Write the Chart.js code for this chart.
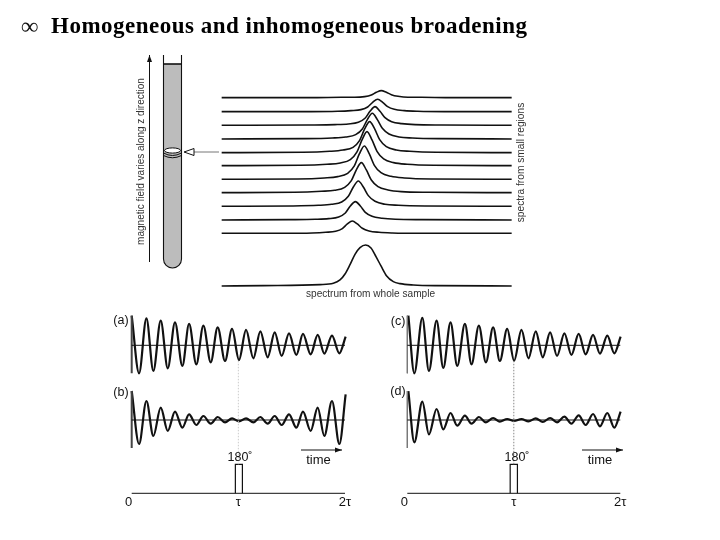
<!DOCTYPE html>
<html>
<head>
<meta charset="utf-8">
<title>Homogeneous and inhomogeneous broadening</title>
<script src="https://cdn.jsdelivr.net/npm/chart.js@4"></script>
<style>
  html, body { margin:0; padding:0; background:#fff; }
  canvas { display:block; }
</style>
</head>
<body>
<canvas id="chart" width="720" height="540"></canvas>
<script>
/* ========= DATA ========= */
const timeTicks = [0, 1, 2];
const timeTickLabels = ['0', 'τ', '2τ'];

// extrema of the echo traces, time in units of tau
const timesLeft = [0,.069,.138,.203,.272,.338,.406,.475,.538,.606,.672,.741,.806,.875,.941,1.006,1.072,1.141,1.206,1.275,1.341,1.406,1.475,1.544,1.606,1.678,1.744,1.806,1.878,1.947,2.006];
const timesRight = [.01,.066,.141,.203,.275,.338,.406,.469,.541,.603,.672,.738,.806,.869,.938,1.003,1.072,1.138,1.206,1.272,1.341,1.406,1.475,1.541,1.609,1.675,1.744,1.809,1.878,1.944,2.003];

const ampA = [.89,-.84,.81,-.77,.74,-.69,.69,-.62,.64,-.57,.59,-.51,.54,-.47,.49,-.44,.46,-.39,.42,-.36,.39,-.32,.36,-.29,.34,-.27,.31,-.25,.29,-.24,.26];
const ampB = [.87,-.72,.57,-.48,.37,-.33,.25,-.23,.17,-.15,.12,-.11,.09,-.07,.05,-.04,.05,-.07,.09,-.11,.12,-.15,.17,-.23,.25,-.33,.37,-.48,.57,-.72,.77];
const ampC = [.89,-.84,.82,-.77,.74,-.68,.69,-.62,.64,-.57,.59,-.51,.54,-.47,.49,-.46,.46,-.39,.42,-.36,.39,-.32,.36,-.29,.34,-.27,.31,-.25,.29,-.24,.26];
const ampD = [.87,-.67,.55,-.43,.33,-.28,.21,-.17,.13,-.11,.09,-.07,.06,-.05,.03,-.03,.03,-.04,.05,-.06,.06,-.07,.10,-.11,.14,-.15,.18,-.19,.21,-.23,.25];

const pulseTimesLeft = [.972, .972, 1.038, 1.038];
const pulseTimesRight = [.966, .966, 1.034, 1.034];
const pulseLevels = [0, 1, 1, 0];

// spectra: shared frequency offsets round each peak
const specOffsets = [-200,-120,-80,-50,-30,-15,0,15,30,50,80,120,200];
const specCentres = [-38,-29,-20,-11,-2,6,14,22,30,38,49];
const specBaselines = [0,40,81,122,162,203,242,283,324,365,407];
const spec1 = [0,1,3,6,14,28,37,28,15,7,3,1,0];
const spec2 = [1,2,4,9,21,42,55,42,23,11,5,2,1];
const spec3 = [1,3,6,13,30,58,76,58,32,15,6,3,1];
const spec4 = [1,4,7,16,36,68,90,68,38,18,8,3,1];
const spec5 = [1,4,8,18,40,76,100,76,42,20,9,4,1];
const spec6 = [1,4,8,18,41,77,102,77,43,20,9,4,1];
const spec7 = [1,4,8,16,37,71,93,71,39,18,8,4,1];
const spec8 = [1,3,6,13,30,58,77,58,32,15,6,3,1];
const spec9 = [1,2,4,9,21,42,56,42,23,11,5,2,1];
const spec10 = [0,1,3,6,14,28,37,28,15,7,3,1,0];
const spec11 = [0,1,1,3,8,16,21,16,9,4,1,1,0];
const specLimits = [-430, 440];

const wholeFreq = [-430,-305,-135,-95,-75,-60,-45,-30,-15,2,18,33,48,65,85,105,145,215,440];
const wholeIntensity = [0,1,4,8,18,36,64,95,115,123,114,88,60,30,13,7,3,1,0];
const wholeBaseline = -158;

/* ========= HELPERS ========= */
const W = 720, H = 540;
const ink = '#111';

// linear scale that puts value 0 at a page pixel, with a given pixel size per unit
function xRange(zeroPx, pxPerUnit){
  return { type:'linear', display:false, min:-zeroPx/pxPerUnit, max:(W-zeroPx)/pxPerUnit };
}
function yRange(zeroPx, pxPerUnit){
  return { type:'linear', display:false, min:-(H-zeroPx)/pxPerUnit, max:zeroPx/pxPerUnit };
}
function pairs(xs, ys){
  return xs.map((x, i) => ({ x, y:ys[i] }));
}
function trace(xs, ys, xAxisID, yAxisID, extra){
  return {
    data:pairs(xs, ys), xAxisID, yAxisID,
    borderColor:ink, borderWidth:1, pointRadius:0, fill:false, tension:0,
    ...extra
  };
}
function spectrum(offsets, values, centre, baseline){
  const xs = [specLimits[0], ...offsets.map(o => o + centre), specLimits[1]];
  const ys = [baseline, ...values.map(v => v + baseline), baseline];
  return trace(xs, ys, 'xSpec', 'ySpec', { borderWidth:1.6, cubicInterpolationMode:'monotone' });
}
function echo(times, amps, xAxisID, yAxisID){
  return trace(times, amps, xAxisID, yAxisID, { borderWidth:2.2, cubicInterpolationMode:'monotone' });
}

/* ========= DATASETS ========= */
const specRows = [spec1,spec2,spec3,spec4,spec5,spec6,spec7,spec8,spec9,spec10,spec11];
const datasets = [
  ...specRows.map((row, i) => spectrum(specOffsets, row, specCentres[i], specBaselines[i])),
  trace(wholeFreq, wholeIntensity.map(v => v + wholeBaseline), 'xSpec', 'ySpec', { borderWidth:1.6, cubicInterpolationMode:'monotone' }),

  // dotted guide at tau
  trace([1, 1], [1, 4.6], 'xLeft', 'yPulse', { borderColor:'#ccc', borderDash:[1.5, 1.5] }),
  trace([1, 1], [1, 4.6], 'xRight', 'yPulse', { borderColor:'#888', borderDash:[1.5, 1.5] }),

  // left column
  trace([0, 2], [0, 0], 'xLeft', 'yA'),
  trace([0, 0], [.89, -.84], 'xLeft', 'yA', { borderWidth:2, borderColor:'#444' }),
  echo(timesLeft, ampA, 'xLeft', 'yA'),
  trace([0, 2], [0, 0], 'xLeft', 'yB'),
  trace([0, 0], [.87, -.84], 'xLeft', 'yB', { borderWidth:2, borderColor:'#444' }),
  echo(timesLeft, ampB, 'xLeft', 'yB'),
  trace([0, 2], [0, 0], 'xLeft', 'yPulse'),
  trace(pulseTimesLeft, pulseLevels, 'xLeft', 'yPulse', { borderWidth:1.2 }),

  // right column
  trace([0, 2], [0, 0], 'xRight', 'yA'),
  trace([0, 0], [.89, -.84], 'xRight', 'yA', { borderColor:'#777' }),
  echo(timesRight, ampC, 'xRight', 'yA'),
  trace([0, 2], [0, 0], 'xRight', 'yB'),
  trace([0, 0], [.87, -.84], 'xRight', 'yB', { borderColor:'#777' }),
  echo(timesRight, ampD, 'xRight', 'yB'),
  trace([0, 2], [0, 0], 'xRight', 'yPulse'),
  trace(pulseTimesRight, pulseLevels, 'xRight', 'yPulse', { borderWidth:1.2 })
];

/* ========= DECORATION ========= */
function text(ctx, str, x, y, font, align, color){
  ctx.font = font;
  ctx.textAlign = align || 'center';
  ctx.textBaseline = 'middle';
  ctx.fillStyle = color || ink;
  ctx.fillText(str, x, y);
}
function rotated(ctx, str, x, y, font){
  ctx.save();
  ctx.translate(x, y);
  ctx.rotate(-Math.PI/2);
  text(ctx, str, 0, 0, font, 'center', '#333');
  ctx.restore();
}
function arrow(ctx, x1, y1, x2, y2){
  const a = Math.atan2(y2-y1, x2-x1);
  ctx.strokeStyle = ctx.fillStyle = ink;
  ctx.lineWidth = 1;
  ctx.beginPath(); ctx.moveTo(x1, y1); ctx.lineTo(x2, y2); ctx.stroke();
  ctx.beginPath();
  ctx.moveTo(x2, y2);
  ctx.lineTo(x2 - 7*Math.cos(a) - 2.5*Math.sin(a), y2 - 7*Math.sin(a) + 2.5*Math.cos(a));
  ctx.lineTo(x2 - 7*Math.cos(a) + 2.5*Math.sin(a), y2 - 7*Math.sin(a) - 2.5*Math.cos(a));
  ctx.closePath(); ctx.fill();
}
function drawTube(ctx){
  const l = 163.5, r = 181.5, top = 55, liquid = 64, bottom = 259;
  const cx = (l+r)/2, rad = (r-l)/2;
  ctx.beginPath();
  ctx.moveTo(l, liquid); ctx.lineTo(r, liquid); ctx.lineTo(r, bottom);
  ctx.arc(cx, bottom, rad, 0, Math.PI);
  ctx.closePath();
  ctx.fillStyle = '#bcbcbc';
  ctx.fill();
  ctx.strokeStyle = ink;
  ctx.lineWidth = 1.1;
  ctx.beginPath();
  ctx.moveTo(l, top); ctx.lineTo(l, bottom);
  ctx.arc(cx, bottom, rad, Math.PI, 0, true);
  ctx.lineTo(r, top);
  ctx.stroke();
  ctx.lineWidth = 1.6;
  ctx.beginPath(); ctx.moveTo(l, liquid); ctx.lineTo(r, liquid); ctx.stroke();
  // slice of the sample
  ctx.lineWidth = 1;
  ctx.fillStyle = '#fff';
  ctx.beginPath(); ctx.ellipse(cx, 150.5, 8, 2.6, 0, 0, Math.PI*2); ctx.fill(); ctx.stroke();
  ctx.beginPath(); ctx.moveTo(l, 153); ctx.quadraticCurveTo(cx, 158, r, 153); ctx.stroke();
  ctx.beginPath(); ctx.moveTo(l, 155.5); ctx.quadraticCurveTo(cx, 160, r, 155.5); ctx.stroke();
}

const decorations = {
  id:'decorations',
  afterDatasetsDraw(chart){
    const ctx = chart.ctx;
    ctx.save();

    text(ctx, '∞', 21, 28, 'bold 24px "Liberation Serif"', 'left');
    ctx.letterSpacing = '0.5px';
    text(ctx, 'Homogeneous and inhomogeneous broadening', 51, 27, 'bold 23px "Liberation Serif"', 'left', '#000');
    ctx.letterSpacing = '0px';

    drawTube(ctx);
    arrow(ctx, 149.5, 262, 149.5, 55);
    rotated(ctx, 'magnetic field varies along z direction', 141.5, 161.5, '10px "Liberation Sans"');
    rotated(ctx, 'spectra from small regions', 521, 162.5, '10.2px "Liberation Sans"');
    text(ctx, 'spectrum from whole sample', 370.5, 294.5, '10.1px "Liberation Sans"', 'center', '#333');

    // hollow pointer to the slice
    ctx.strokeStyle = '#777';
    ctx.lineWidth = 1;
    ctx.beginPath(); ctx.moveTo(194, 152); ctx.lineTo(219, 152); ctx.stroke();
    ctx.strokeStyle = ink;
    ctx.beginPath(); ctx.moveTo(184, 152); ctx.lineTo(194, 148.5); ctx.lineTo(194, 155.5); ctx.closePath(); ctx.stroke();

    text(ctx, '(a)', 121, 321, '12.5px "Liberation Sans"');
    text(ctx, '(b)', 121, 393, '12.5px "Liberation Sans"');
    text(ctx, '(c)', 398, 322, '12.5px "Liberation Sans"');
    text(ctx, '(d)', 398, 392, '12.5px "Liberation Sans"');

    text(ctx, '180˚', 240, 458, '12.5px "Liberation Sans"');
    text(ctx, '180˚', 517, 458, '12.5px "Liberation Sans"');

    arrow(ctx, 301, 450, 342, 450);
    arrow(ctx, 582, 450, 623, 450);
    text(ctx, 'time', 318.5, 460.5, '13px "Liberation Sans"');
    text(ctx, 'time', 600, 460.5, '13px "Liberation Sans"');

    // tick labels, placed through the time scales
    timeTicks.forEach((t, i) => {
      const shift = i === 0 ? -3 : 0;
      text(ctx, timeTickLabels[i], chart.scales.xLeft.getPixelForValue(t) + shift, 502.5, '13px "Liberation Sans"');
      text(ctx, timeTickLabels[i], chart.scales.xRight.getPixelForValue(t) + shift, 502.5, '13px "Liberation Sans"');
    });
    ctx.restore();
  }
};

/* ========= CHART ========= */
new Chart(document.getElementById('chart'), {
  type:'line',
  data:{ datasets },
  options:{
    responsive:false,
    animation:false,
    parsing:false,
    normalized:false,
    plugins:{ legend:{ display:false }, title:{ display:false }, tooltip:{ enabled:false } },
    layout:{ padding:0 },
    scales:{
      xSpec:xRange(365, 1/3),
      ySpec:yRange(233.3, 1/3),
      xLeft:xRange(131.7, 106.65),
      xRight:xRange(407.3, 106.5),
      yA:yRange(345.3, 33.33),
      yB:yRange(420, 33.33),
      yPulse:yRange(493.3, 29)
    }
  },
  plugins:[decorations]
});
</script>
</body>
</html>
